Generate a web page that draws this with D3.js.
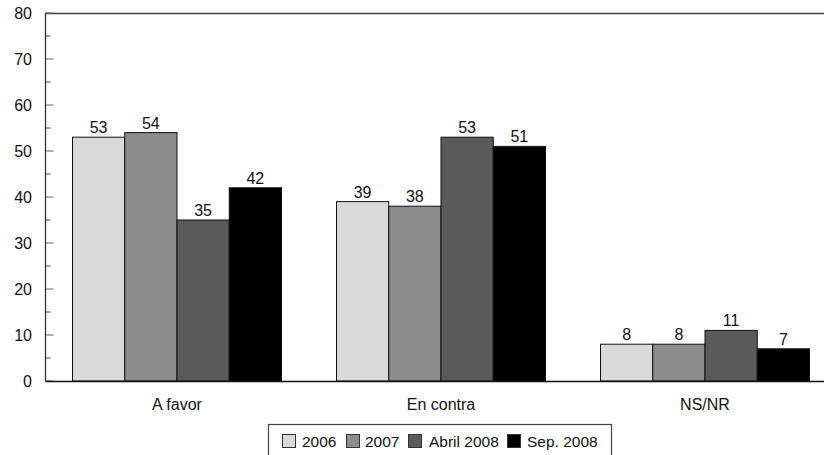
<!DOCTYPE html>
<html>
<head>
<meta charset="utf-8">
<script src="https://cdn.jsdelivr.net/npm/d3@7"></script>
<style>
  body { margin: 0; background: #fff; }
  text { font-family: "Liberation Sans", Arial, sans-serif; }
</style>
</head>
<body>
<div id="chart"></div>
<script>
const categories = ["A favor", "En contra", "NS/NR"];
const seriesNames = ["2006", "2007", "Abril 2008", "Sep. 2008"];
const values2006 = [53, 39, 8];
const values2007 = [54, 38, 8];
const valuesAbril2008 = [35, 53, 11];
const valuesSep2008 = [42, 51, 7];
const yTicks = [0, 10, 20, 30, 40, 50, 60, 70, 80];

const colors = ["#d9d9d9", "#8c8c8c", "#5a5a5a", "#000000"];
const allSeries = [values2006, values2007, valuesAbril2008, valuesSep2008];

const width = 824, height = 455;
const plotLeft = 45.5, plotTop = 13, plotBottom = 381;

const svg = d3.select("#chart").append("svg")
  .attr("width", width).attr("height", height);

// categories go slightly beyond the window on the right, like the original
const x = d3.scaleBand().domain(categories).range([plotLeft, plotLeft + 3 * 264]).paddingInner(0).paddingOuter(0);
const inner = d3.scaleBand().domain(seriesNames).range([27, 236]);
const y = d3.scaleLinear().domain([0, 80]).range([plotBottom, plotTop]);

// top frame line
svg.append("line")
  .attr("x1", plotLeft).attr("x2", width).attr("y1", plotTop + 0.5).attr("y2", plotTop + 0.5)
  .attr("stroke", "#444").attr("stroke-width", 1.3);

// y axis, ticks pointing inward
const minor = d3.range(5, 80, 10);
svg.append("g").selectAll("line").data(minor).join("line")
  .attr("x1", plotLeft).attr("x2", plotLeft + 5)
  .attr("y1", d => y(d)).attr("y2", d => y(d))
  .attr("stroke", "#444");
svg.append("g").selectAll("line").data(yTicks).join("line")
  .attr("x1", plotLeft).attr("x2", plotLeft + 8)
  .attr("y1", d => y(d)).attr("y2", d => y(d))
  .attr("stroke", "#666");
svg.append("g").selectAll("text").data(yTicks).join("text")
  .attr("x", 32).attr("y", d => y(d) + 6)
  .attr("text-anchor", "end").attr("font-size", 16).attr("fill", "#111")
  .text(d => d);
svg.append("line")
  .attr("x1", plotLeft).attr("x2", plotLeft).attr("y1", plotTop).attr("y2", plotBottom)
  .attr("stroke", "#333").attr("stroke-width", 1.3);

// bars
const groups = svg.append("g").selectAll("g").data(categories).join("g")
  .attr("transform", d => `translate(${x(d)},0)`);

groups.each(function(cat, ci) {
  const g = d3.select(this);
  seriesNames.forEach((s, si) => {
    const v = allSeries[si][ci];
    g.append("rect")
      .attr("x", inner(s)).attr("width", inner.bandwidth())
      .attr("y", y(v)).attr("height", y(0) - y(v))
      .attr("fill", colors[si]).attr("stroke", "#111").attr("stroke-width", 1);
    g.append("text")
      .attr("x", inner(s) + inner.bandwidth() / 2).attr("y", y(v) - 4)
      .attr("text-anchor", "middle").attr("font-size", 16).attr("fill", "#111")
      .text(v);
  });
  g.append("text")
    .attr("x", x.bandwidth() / 2 - 0.5).attr("y", 409.5)
    .attr("text-anchor", "middle").attr("font-size", 16).attr("fill", "#111")
    .text(cat);
});

// baseline
svg.append("line")
  .attr("x1", plotLeft).attr("x2", width).attr("y1", plotBottom + 0.5).attr("y2", plotBottom + 0.5)
  .attr("stroke", "#111").attr("stroke-width", 1.3);

// legend
const legend = svg.append("g");
legend.append("rect")
  .attr("x", 268.5).attr("y", 424.5).attr("width", 343).attr("height", 40)
  .attr("fill", "#fff").attr("stroke", "#444").attr("stroke-width", 1.2);
const legendX = [282, 346, 408, 507];
const legendTextX = [302, 365, 429, 527];
seriesNames.forEach((s, i) => {
  legend.append("rect")
    .attr("x", legendX[i] + 0.5).attr("y", 434.5).attr("width", 13).attr("height", 13)
    .attr("fill", colors[i]).attr("stroke", "#333");
  legend.append("text")
    .attr("x", legendTextX[i]).attr("y", 447)
    .attr("font-size", 15.5).attr("fill", "#111")
    .text(s);
});
</script>
</body>
</html>
